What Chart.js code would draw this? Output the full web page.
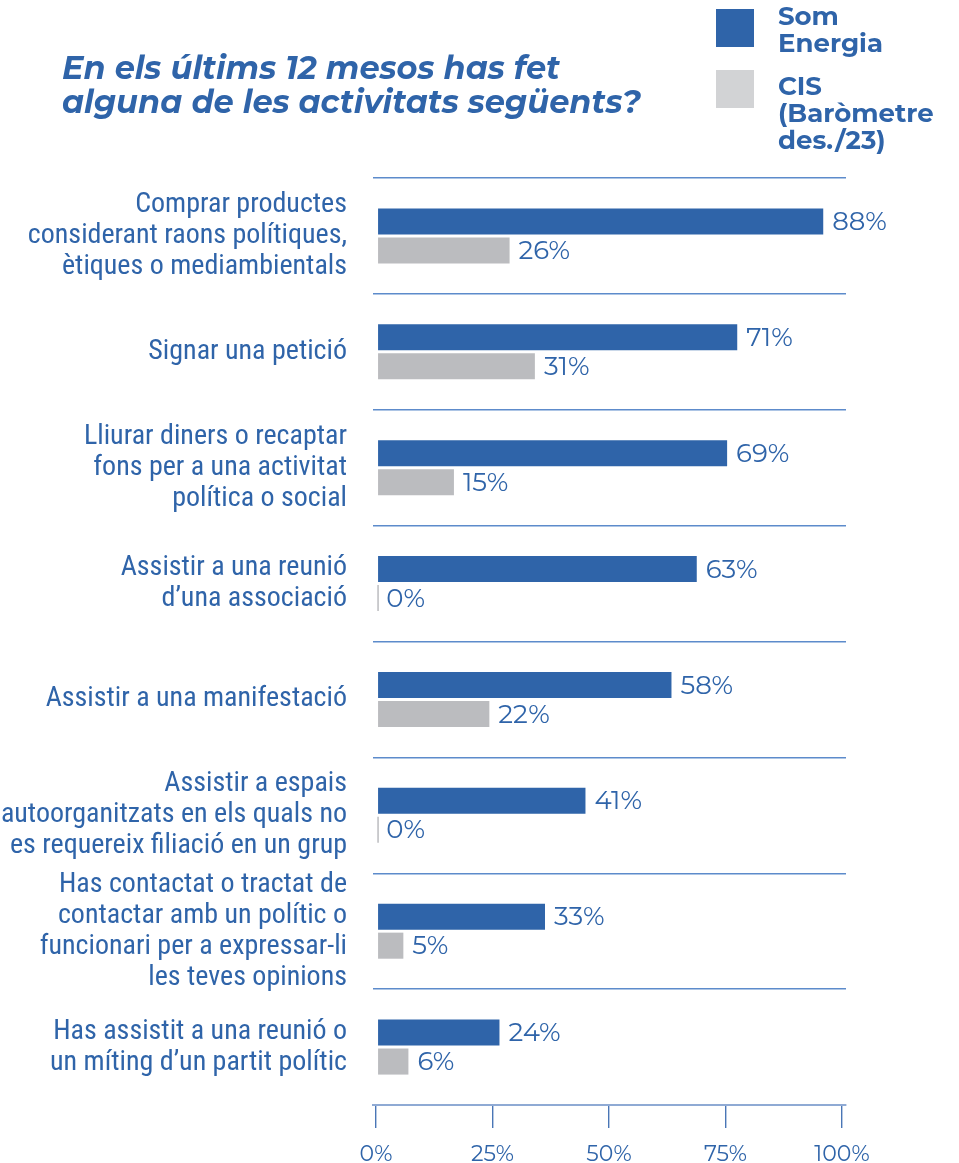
<!DOCTYPE html>
<html>
<head>
<meta charset="utf-8">
<script src="https://cdn.jsdelivr.net/npm/chart.js@4.4.1/dist/chart.umd.min.js"></script>
<style>
  html, body { margin:0; padding:0; background:#ffffff; }
  #wrap { position:relative; width:959px; height:1163px; overflow:hidden; }
  #c { position:absolute; left:0; top:0; }
  #title { position:absolute; left:62px; top:51px; color:#2F64A9; font-weight:700; font-style:italic; font-size:32px; line-height:34px; white-space:nowrap; font-family:"Montserrat","Open Sans",sans-serif; }
  .lg { position:absolute; left:716px; width:38px; height:38px; }
  .lgt { position:absolute; left:778px; color:#2F64A9; font-weight:700; font-size:26px; line-height:27px; white-space:nowrap; font-family:"Montserrat","Open Sans",sans-serif; }
</style>
</head>
<body>
<div id="wrap">
  <canvas id="c" width="959" height="1163"></canvas>
  <div id="title">En els últims 12 mesos has fet<br>alguna de les activitats següents?</div>
  <div class="lg" style="top:9px;background:#2F64A9"></div>
  <div class="lgt" style="top:3px">Som<br>Energia</div>
  <div class="lg" style="top:70px;background:#D2D3D5"></div>
  <div class="lgt" style="top:73px">CIS<br>(Baròmetre<br>des./23)</div>
</div>
<script>
const categories = [
  ["Comprar productes", "considerant raons polítiques,", "ètiques o mediambientals"],
  ["Signar una petició"],
  ["Lliurar diners o recaptar", "fons per a una activitat", "política o social"],
  ["Assistir a una reunió", "d’una associació"],
  ["Assistir a una manifestació"],
  ["Assistir a espais", "autoorganitzats en els quals no", "es requereix filiació en un grup"],
  ["Has contactat o tractat de", "contactar amb un polític o", "funcionari per a expressar-li", "les teves opinions"],
  ["Has assistit a una reunió o", "un míting d’un partit polític"]
];
const seriesNames = ["Som Energia", "CIS (Baròmetre des./23)"];
const somEnergia = [88, 71, 69, 63, 58, 41, 33, 24];
const cis = [26, 31, 15, 0, 22, 0, 5, 6];
const axisTicks = [0, 25, 50, 75, 100];

const BLUE = '#2F64A9';
const GREY = '#BBBCBF';
const labelFamily = '"Roboto Condensed", "Liberation Sans Narrow", Roboto, sans-serif';
const valueFamily = '"Montserrat", "Open Sans", sans-serif';

const valueLabels = {
  id: 'valueLabels',
  afterDatasetsDraw(chart) {
    const ctx = chart.ctx;
    ctx.save();
    ctx.fillStyle = BLUE;
    ctx.font = '26px ' + valueFamily;
    ctx.textBaseline = 'middle';
    ctx.textAlign = 'left';
    chart.data.datasets.forEach((ds, di) => {
      const meta = chart.getDatasetMeta(di);
      meta.data.forEach((el, i) => {
        ctx.fillText(ds.data[i] + '%', el.x + 9, el.y + 1);
      });
    });
    ctx.restore();
  }
};

function draw() {
  new Chart(document.getElementById('c'), {
    type: 'bar',
    data: {
      labels: categories,
      datasets: [
        { label: seriesNames[0], data: somEnergia, backgroundColor: BLUE, xAxisID: 'x', categoryPercentage: 0.5, barPercentage: 0.9 },
        { label: seriesNames[1], data: cis, backgroundColor: GREY, xAxisID: 'x', categoryPercentage: 0.5, barPercentage: 0.9, minBarLength: 1.5 }
      ]
    },
    options: {
      indexAxis: 'y',
      responsive: false,
      animation: false,
      devicePixelRatio: 1,
      layout: { padding: { top: 178, right: 113, left: 0, bottom: 0 } },
      plugins: { legend: { display: false }, title: { display: false }, tooltip: { enabled: false } },
      scales: {
        y: {
          type: 'category',
          offset: true,
          grid: { offset: true, color: '#5D8BCB', lineWidth: 1.4, drawTicks: false },
          border: { display: false },
          ticks: { autoSkip: false, padding: 26, color: BLUE, font: { family: labelFamily, size: 28, lineHeight: 1.11 } },
          afterFit(s) { s.width = 373; s.paddingTop = 0; s.paddingBottom = 0; }
        },
        x: {
          type: 'linear', display: false, min: -1, max: 92.5
        },
        x2: {
          type: 'linear', position: 'bottom', min: -0.64, max: 100.86,
          afterBuildTicks(s) { s.ticks = axisTicks.map(v => ({ value: v })); },
          grid: { drawOnChartArea: false, drawTicks: true, tickLength: 23, color: '#4A76B6', lineWidth: 1.4 },
          border: { display: true, color: '#8FAAD4', width: 2 },
          ticks: { autoSkip: false, maxRotation: 0, padding: 13, color: BLUE, font: { family: valueFamily, size: 22 }, callback: v => v + '%' },
          afterFit(s) { s.height = 58; }
        }
      }
    },
    plugins: [valueLabels]
  });
}
if (document.fonts && document.fonts.load) {
  Promise.all([
    document.fonts.load('28px "Roboto Condensed"'),
    document.fonts.load('26px "Montserrat"'),
    document.fonts.load('700 26px "Montserrat"'),
    document.fonts.load('italic 700 32px "Montserrat"')
  ]).then(draw, draw);
} else { draw(); }
</script>
</body>
</html>
